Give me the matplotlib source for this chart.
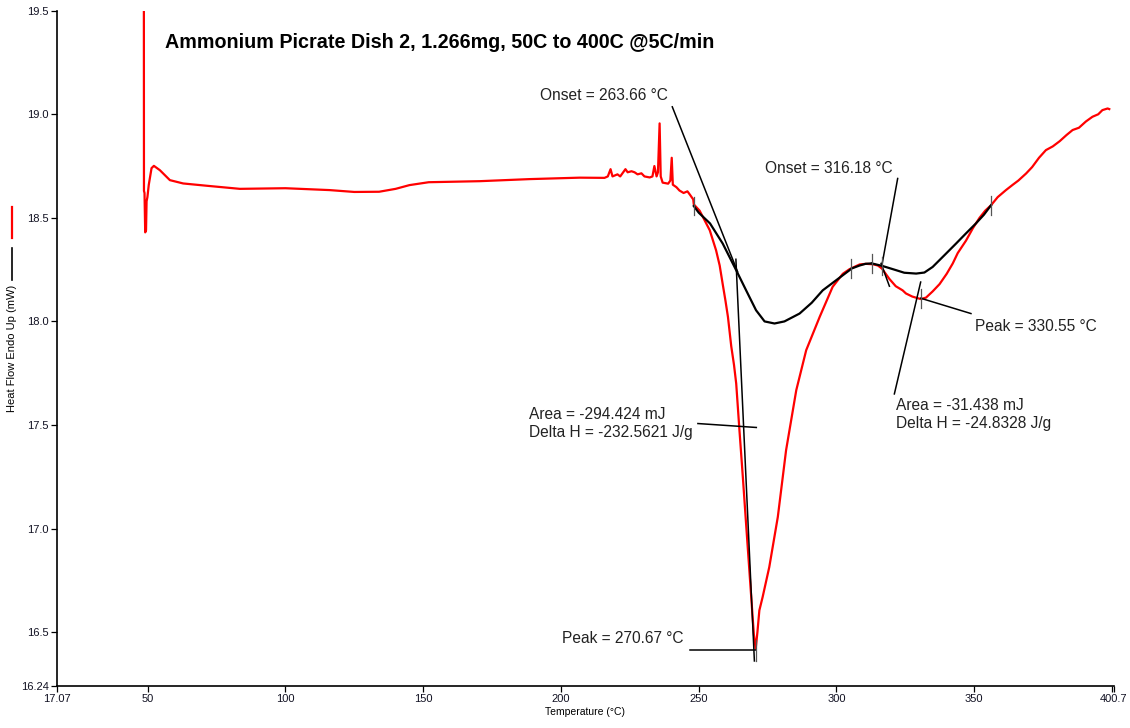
import matplotlib
matplotlib.use("Agg")
import matplotlib.pyplot as plt
from matplotlib.lines import Line2D

plt.rcParams['font.family'] = ['Liberation Sans', 'DejaVu Sans']

# measured DSC trace (temperature in C, heat flow in mW)
temp_red = [48.60, 48.65, 48.85, 49.10, 49.40, 49.60, 49.90, 50.40, 51.40, 52.25, 54.43,
            58.06, 62.88, 71.37, 83.45, 100.0, 116.0, 125.0, 134.0, 140.0, 145.0, 152.0,
            170.5, 188.6, 206.8, 215.8, 217.0, 218.0, 218.7, 220.5, 221.5, 223.4, 224.2,
            225.6, 226.7, 227.8, 229.2, 230.3, 232.2, 233.2, 233.9, 234.7, 235.2, 235.8,
            236.2, 236.9, 238.9, 239.7, 240.2, 240.6, 241.9, 243.0, 244.5, 245.9, 246.9,
            248.0, 248.2, 250.3, 252.1, 254.0, 256.3, 257.6, 258.7, 259.7, 260.6, 261.8,
            262.8, 263.6, 264.8, 266.0, 267.2, 268.6, 270.0, 270.67, 271.3, 272.0, 273.2,
            275.6, 278.7, 281.7, 285.4, 289.0, 293.9, 298.6, 302.3, 304.7, 308.4, 310.7,
            313.2, 315.0, 316.5, 319.2, 321.5, 324.0, 325.2, 327.5, 330.55, 332.5, 334.9,
            337.4, 340.0, 342.2, 344.0, 347.0, 349.5, 351.9, 354.0, 356.1, 358.5, 361.5,
            364.0, 366.0, 368.8, 371.0, 373.5, 376.0, 378.5, 381.0, 383.5, 385.7, 388.0,
            390.5, 392.9, 395.0, 396.5, 398.4, 399.0]
flow_red = [19.95, 18.63, 18.62, 18.43, 18.44, 18.58, 18.60, 18.66, 18.74, 18.751, 18.73,
            18.682, 18.666, 18.655, 18.64, 18.643, 18.634, 18.625, 18.626, 18.64, 18.658, 18.672,
            18.677, 18.687, 18.694, 18.693, 18.70, 18.735, 18.70, 18.71, 18.70, 18.735, 18.72,
            18.725, 18.72, 18.71, 18.715, 18.70, 18.695, 18.70, 18.75, 18.70, 18.72, 18.956,
            18.70, 18.67, 18.665, 18.68, 18.79, 18.66, 18.648, 18.632, 18.62, 18.628, 18.61,
            18.589, 18.565, 18.535, 18.489, 18.44, 18.343, 18.27, 18.18, 18.10, 18.022, 17.88,
            17.79, 17.70, 17.47, 17.25, 17.02, 16.755, 16.49, 16.42, 16.50, 16.605, 16.67,
            16.814, 17.056, 17.378, 17.668, 17.861, 18.022, 18.167, 18.23, 18.252, 18.275, 18.278,
            18.276, 18.27, 18.255, 18.205, 18.17, 18.15, 18.135, 18.12, 18.108, 18.115, 18.145,
            18.18, 18.23, 18.28, 18.33, 18.39, 18.45, 18.50, 18.535, 18.561, 18.60, 18.634,
            18.66, 18.68, 18.714, 18.745, 18.79, 18.827, 18.845, 18.87, 18.90, 18.924, 18.935,
            18.965, 18.988, 19.00, 19.02, 19.028, 19.025]

# integration baselines
temp_base1 = [248.2, 250.0, 254.1, 258.7, 263.6, 267.2, 270.8, 273.9, 277.5, 281.1, 286.6,
              291.0, 295.0, 299.9, 304.7, 305.4, 308.4, 310.5, 312.8]
flow_base1 = [18.557, 18.525, 18.473, 18.376, 18.247, 18.15, 18.054, 18.0, 17.99, 18.0, 18.038,
              18.09, 18.15, 18.199, 18.247, 18.255, 18.27, 18.278, 18.28]
temp_base2 = [312.8, 316.6, 321.0, 324.6, 328.9, 331.9, 334.9, 339.2, 343.4, 347.0, 350.6,
              353.5, 356.1]
flow_base2 = [18.28, 18.268, 18.25, 18.235, 18.231, 18.236, 18.263, 18.32, 18.376, 18.425,
              18.473, 18.515, 18.561]

onset1, peak1 = 263.66, 270.67
onset2, peak2 = 316.18, 330.55
area1_text = "Area = -294.424 mJ\nDelta H = -232.5621 J/g"
area2_text = "Area = -31.438 mJ\nDelta H = -24.8328 J/g"

x_ticks = [17.07, 50, 100, 150, 200, 250, 300, 350, 400.7]
y_ticks = [16.24, 16.5, 17.0, 17.5, 18.0, 18.5, 19.0, 19.5]

fig = plt.figure(figsize=(11.3, 7.28), dpi=100)
ax = fig.add_axes([0.0504, 0.0577, 0.9354, 0.9276])

ax.plot(temp_red, flow_red, color='#ff0000', lw=1.6, zorder=3)
ax.plot(temp_base1, flow_base1, color='black', lw=1.6, zorder=4)
ax.plot(temp_base2, flow_base2, color='black', lw=1.6, zorder=4)

thin = dict(color='black', lw=1.1, zorder=5)
tick = dict(color='#555555', lw=0.9, zorder=5)

# first event: tangent, onset leader, area leader, peak leader
slope1 = -0.289
ax.plot([263.49, 270.2], [18.30, 18.30 + slope1 * (270.2 - 263.49)], **thin)
ax.plot([240.4, 264.1], [19.036, 18.24], **thin)
ax.plot([249.7, 270.9], [17.507, 17.488], **thin)
ax.plot([246.7, peak1], [16.416, 16.416], **thin)
ax.plot([peak1, peak1], [16.36, 16.46], **tick)

# second event
ax.plot([onset2, 319.2], [18.28, 18.17], **thin)
ax.plot([322.2, 316.6], [18.69, 18.28], **thin)
ax.plot([peak2, 348.8], [18.112, 18.038], **thin)
ax.plot([peak2, 321.0], [18.19, 17.65], **thin)
ax.plot([peak2, peak2], [18.065, 18.155], **tick)

# baseline limit marks
for t, f in [(248.2, 18.557), (305.4, 18.255), (312.8, 18.28), (316.6, 18.268), (356.1, 18.561)]:
    ax.plot([t, t], [f - 0.045, f + 0.045], **tick)

txt = dict(fontsize=11.2, color='#222222', va='center', ha='left')
ax.text(192.3, 19.093, "Onset = %.2f °C" % onset1, **txt)
ax.text(273.9, 18.74, "Onset = %.2f °C" % onset2, **txt)
ax.text(350.4, 17.977, "Peak = %.2f °C" % peak2, **txt)
ax.text(200.2, 16.47, "Peak = %.2f °C" % peak1, **txt)
ax.text(188.3, 17.506, area1_text, linespacing=1.25, **txt)
ax.text(321.7, 17.549, area2_text, linespacing=1.25, **txt)

ax.set_xlim(17.07, 400.7)
ax.set_ylim(16.24, 19.5)
ax.set_xticks(x_ticks)
ax.set_xticklabels(["17.07"] + [str(v) for v in x_ticks[1:-1]] + ["400.7"])
ax.set_xticks([400], minor=True)
ax.set_yticks(y_ticks)
ax.set_yticklabels(["16.24"] + ["%.1f" % v for v in y_ticks[1:]])
ax.tick_params(axis='both', which='both', direction='out', length=4, width=0.9,
               labelsize=8, colors='black', labelcolor='#111122', pad=2)

for side in ['top', 'right']:
    ax.spines[side].set_visible(False)
for side in ['left', 'bottom']:
    ax.spines[side].set_linewidth(1.2)

ax.set_xlabel("Temperature (°C)", fontsize=7.5, labelpad=2)
ax.set_ylabel("Heat Flow Endo Up (mW)", fontsize=8)
ax.yaxis.set_label_coords(-0.0375, 0.5)

fig.text(0.146, 0.941, "Ammonium Picrate Dish 2, 1.266mg, 50C to 400C @5C/min",
         fontsize=14.2, fontweight='bold', va='center', ha='left')

# series keys beside the y label
fig.add_artist(Line2D([12 / 1130, 12 / 1130], [1 - 207 / 728, 1 - 238 / 728], color='#ff0000', lw=1.6))
fig.add_artist(Line2D([12 / 1130, 12 / 1130], [1 - 248 / 728, 1 - 280 / 728], color='black', lw=1.2))

fig.savefig("out.png", dpi=100)
